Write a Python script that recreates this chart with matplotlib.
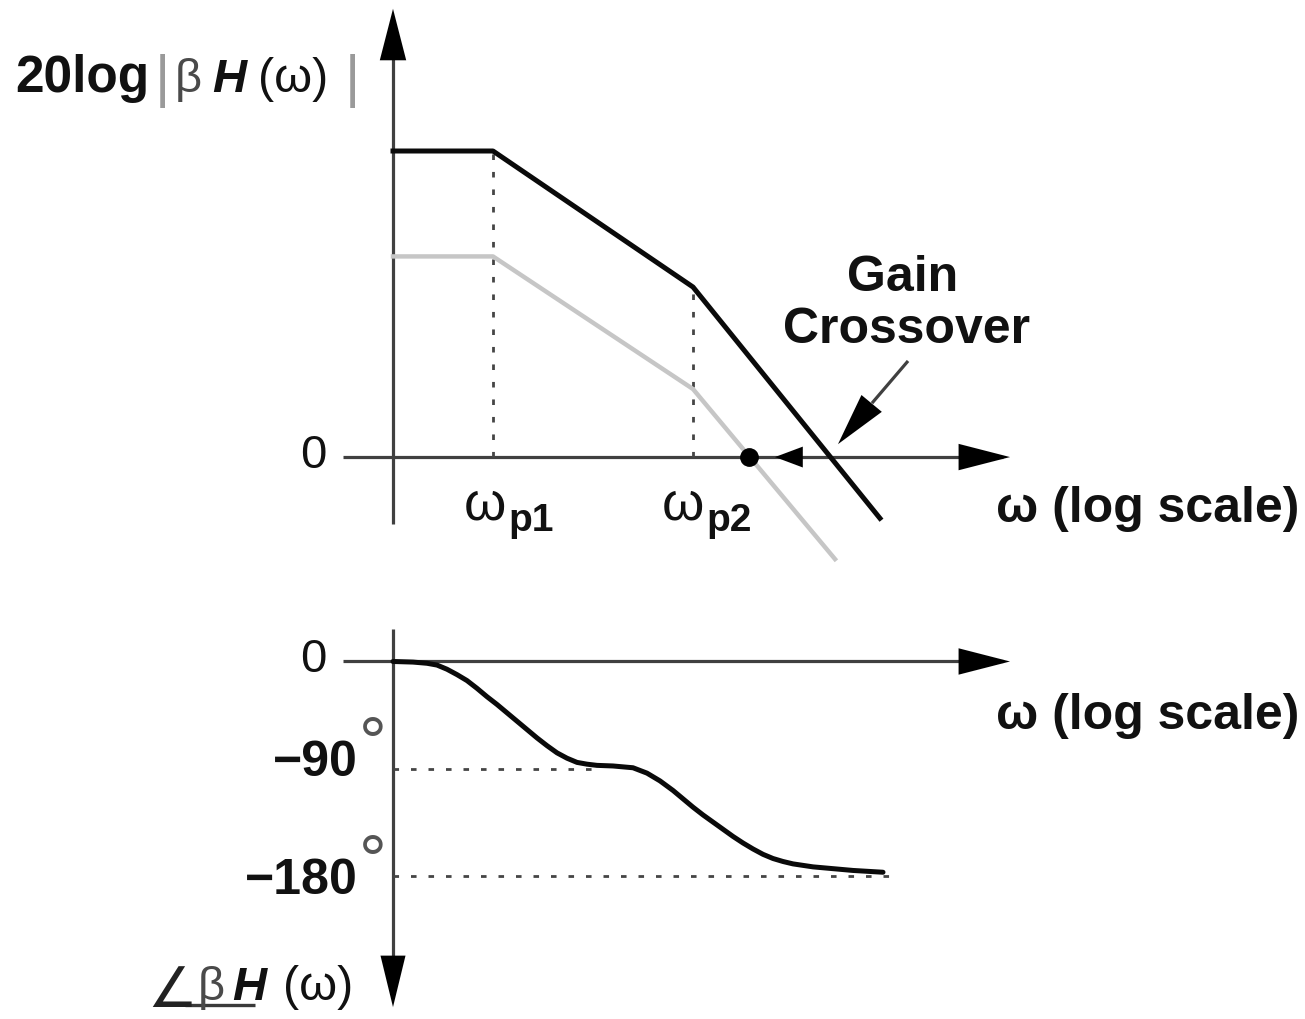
import numpy as np
import matplotlib
matplotlib.use("Agg")
import matplotlib.pyplot as plt

# ---------------- data ----------------
# magnitude asymptotes: omega (log axis) and 20log|beta H| in dB
loop_omega = [1.0, 10.0, 1000.0, 74000.0]      # original loop gain
loop_db = [90, 90, 50, -18]
lowb_omega = [1.0, 10.0, 1000.0, 26300.0]      # reduced beta (gray)
lowb_db = [59, 59, 20, -30]
pole_omega = [10.0, 1000.0]                     # omega_p1, omega_p2
pole_labels = ["p1", "p2"]
pole_db = [90, 50]

# phase curve (log10 omega, degrees)
phase_logw = [0.00, 0.20, 0.34, 0.44, 0.54, 0.64, 0.74, 0.84, 0.94, 1.04,
              1.14, 1.24, 1.34, 1.44, 1.54, 1.64, 1.74, 1.84, 1.94, 2.04,
              2.20, 2.40, 2.54, 2.67, 2.80, 2.90, 3.00, 3.10, 3.20, 3.30,
              3.40, 3.50, 3.60, 3.70, 3.80, 3.90, 4.00, 4.20, 4.40, 4.60, 4.90]
phase_deg = [0, -0.5, -1.5, -3, -6.5, -11, -16, -22.5, -29.5, -36,
             -43, -50, -57, -64, -70.5, -76.5, -81, -84.5, -86, -87,
             -87.5, -89, -93.5, -100, -108, -115, -122, -128.5, -134.5, -140.5,
             -146.5, -152, -157, -161.5, -165, -167.5, -169.5, -172, -173.5, -175, -176.5]
phase_ticks = [0, -90, -180]
phase_tick_labels = ["0", "\u221290", "\u2212180"]
phase_ref_end_logw = [2.07, 5.07]   # extent of dotted -90/-180 guides

# crossover markers (log10 omega)
new_cross_logw = 3.56
shift_head_logw = (4.10, 3.82)     # base, tip of the shift arrow head

# ---------------- figure ----------------
FW, FH, DPI = 1305, 1020, 100
fig = plt.figure(figsize=(FW / DPI, FH / DPI), dpi=DPI)
FONT = "Liberation Sans"

XL = (10 ** -3.93, 10 ** 9.12)
ax_top = fig.add_axes([0, 1 - 590 / FH, 1, 590 / FH])
ax_bot = fig.add_axes([0, 0, 1, 430 / FH])
for a in (ax_top, ax_bot):
    a.set_xscale("log")
    a.set_xlim(*XL)
    a.axis("off")
ax_top.set_ylim(-38.8, 134.7)
ax_bot.set_ylim(-299.4, 60.7)

ax_txt = fig.add_axes([0, 0, 1, 1], zorder=-1)
ax_txt.set_xlim(0, FW)
ax_txt.set_ylim(FH, 0)
ax_txt.axis("off")

AX_COL = "#404040"
AX_LW = 2.3


def head(ax, tail, tip, hl=3.7, hw=0.95, ms=10, color="k"):
    ax.annotate("", xy=tip, xytext=tail,
                arrowprops=dict(arrowstyle=f"-|>,head_length={hl},head_width={hw}",
                                mutation_scale=ms, color=color, lw=0.01,
                                shrinkA=0, shrinkB=0))


w = lambda lg: 10 ** lg
DASH = (0, (2.0, 4.3))
DASH_LW = 2.0
DASH_COL = "#454545"

# ---- top panel axes ----
ax_top.plot([w(-0.5), w(6.1)], [0, 0], color=AX_COL, lw=AX_LW, solid_capstyle="butt", zorder=2)
head(ax_top, (w(5.6), 0), (w(6.17), 0))
ax_top.plot([1, 1], [-19.7, 120], color=AX_COL, lw=AX_LW, solid_capstyle="butt", zorder=2)
head(ax_top, (1, 110), (1, 131.8))

# magnitude curves
ax_top.plot(lowb_omega, lowb_db, color="#c6c6c6", lw=3.2, solid_joinstyle="round", zorder=3)
ax_top.plot(loop_omega, loop_db, color="#0a0a0a", lw=3.6, solid_joinstyle="round", zorder=4)
for pw, pdb in zip(pole_omega, pole_db):
    ax_top.plot([pw, pw], [0, pdb], color=DASH_COL, lw=DASH_LW, linestyle=DASH, zorder=2)

# crossover shift marker
ax_top.plot([w(new_cross_logw)], [0], "o", color="k", markersize=12.5, zorder=5)
head(ax_top, (w(shift_head_logw[0]), 0), (w(shift_head_logw[1]), 0), hl=2.0, hw=0.75)
# gain crossover pointer
ax_top.plot([w(5.14), w(4.80)], [27.9, 16.2], color=AX_COL, lw=AX_LW, zorder=5)
head(ax_top, (w(4.79), 15.9), (w(4.45), 3.8), hl=3.8, hw=0.95)

# ---- bottom panel ----
ax_bot.plot([w(-0.5), w(6.1)], [0, 0], color=AX_COL, lw=AX_LW, solid_capstyle="butt", zorder=2)
head(ax_bot, (w(5.6), 0), (w(6.17), 0))
ax_bot.plot([1, 1], [27.2, -260], color=AX_COL, lw=AX_LW, solid_capstyle="butt", zorder=2)
head(ax_bot, (1, -240), (1, -289.4), hl=3.7, hw=0.9)

for deg, lend in zip(phase_ticks[1:], phase_ref_end_logw):
    ax_bot.plot([1, w(lend)], [deg, deg], color=DASH_COL, lw=DASH_LW, linestyle=DASH, zorder=2)

ax_bot.plot(np.power(10.0, phase_logw), phase_deg, color="#0a0a0a", lw=3.6,
            solid_capstyle="round", solid_joinstyle="round", zorder=4)

# ---------------- texts (pixel layout) ----------------
FS = 34
kw = dict(family=FONT, color="#111111")
GREY_TXT = "#4a4a4a"

# y-axis title top
ax_txt.text(15, 92, "20log", fontsize=37, fontweight="bold", va="baseline", ha="left", **kw)
ax_txt.text(155, 96, "|", fontsize=42, color="#9a9a9a", family=FONT, va="baseline", ha="left")
ax_txt.text(175, 92, "\u03b2", fontsize=FS, va="baseline", ha="left", family=FONT, color=GREY_TXT)
ax_txt.text(212, 92, "H", fontsize=FS, fontweight="bold", style="italic", va="baseline", ha="left", **kw)
ax_txt.text(258, 92, "(\u03c9)", fontsize=FS + 1, va="baseline", ha="left", **kw)
ax_txt.text(345, 96, "|", fontsize=42, color="#9a9a9a", family=FONT, va="baseline", ha="left")

# zero labels
ax_txt.text(313, 456, "0", fontsize=FS, va="center", ha="center", **kw)
ax_txt.text(313, 660, "0", fontsize=FS, va="center", ha="center", **kw)

# omega axis labels
for y in (522, 729):
    ax_txt.text(996, y, "\u03c9 (log scale)", fontsize=36, fontweight="bold",
                va="baseline", ha="left", **kw)

# pole labels
for px, lab in zip((464, 662), pole_labels):
    ax_txt.text(px, 520, "\u03c9", fontsize=39, va="baseline", ha="left", **kw)
    ax_txt.text(px + 44, 531, lab, fontsize=FS - 6, fontweight="bold", va="baseline", ha="left", **kw)

# gain crossover
ax_txt.text(903, 278, "Gain", fontsize=36, fontweight="bold", va="center", ha="center", **kw)
ax_txt.text(907, 330, "Crossover", fontsize=36, fontweight="bold", va="center", ha="center", **kw)

# phase tick labels
for deg, lab, ypx in zip(phase_ticks[1:], phase_tick_labels[1:], (763, 881)):
    ax_txt.text(358, ypx, lab, fontsize=36, fontweight="bold", va="center", ha="right", **kw)
    ax_txt.text(359, ypx - 16, "\u00b0", fontsize=50, va="center", ha="left",
                family=FONT, color="#555555")

# phase axis title
ax_txt.text(147, 1019, "\u2220", fontsize=40, va="bottom", ha="left",
            family="DejaVu Sans", color="#222222")
ax_txt.plot([185, 255], [1005.5, 1005.5], color="#3a3a3a", lw=2.4, solid_capstyle="butt")
ax_txt.text(198, 1000, "\u03b2", fontsize=FS, va="baseline", ha="left", family=FONT, color=GREY_TXT)
ax_txt.text(232, 1000, "H", fontsize=FS, fontweight="bold", style="italic", va="baseline", ha="left", **kw)
ax_txt.text(283, 1000, "(\u03c9)", fontsize=FS + 1, va="baseline", ha="left", **kw)

fig.savefig("out.png", dpi=DPI, facecolor="white")
